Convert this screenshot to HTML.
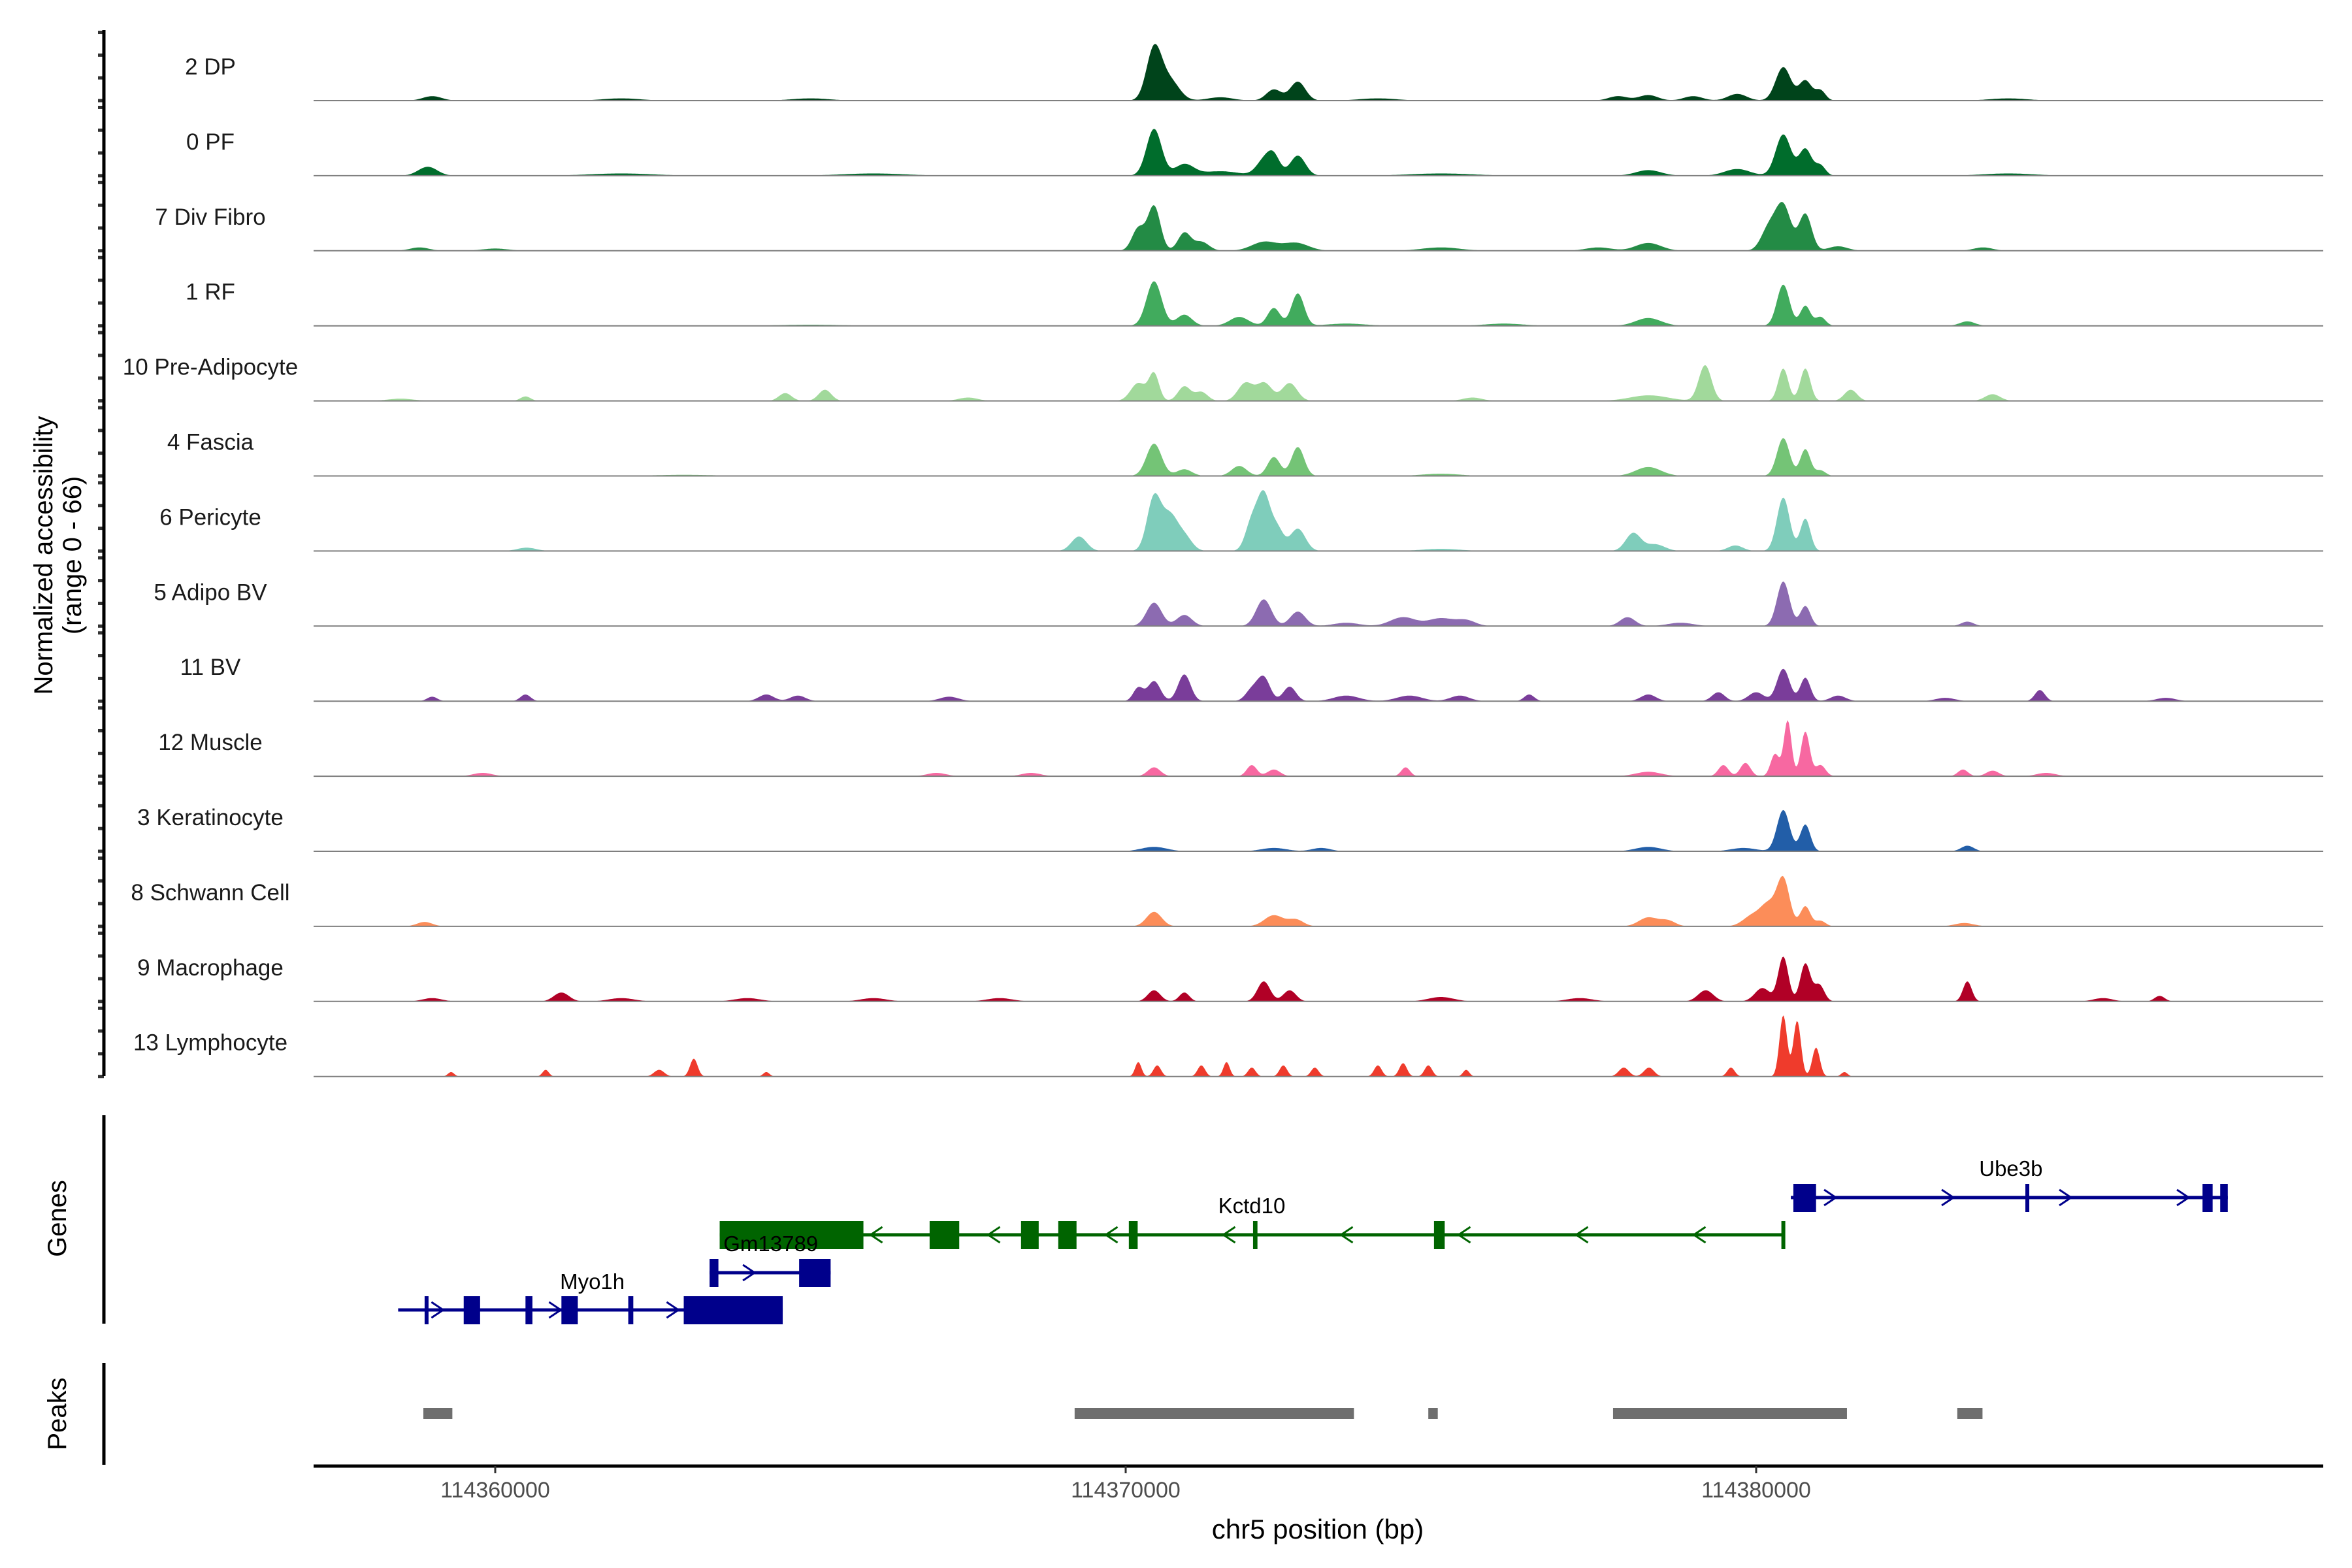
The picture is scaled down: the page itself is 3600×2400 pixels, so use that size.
<!DOCTYPE html>
<html><head><meta charset="utf-8"><style>
html,body{margin:0;padding:0;background:#fff}
svg{display:block;font-family:"Liberation Sans",sans-serif}
</style></head><body>
<svg id="c" width="3600" height="2400" viewBox="0 0 3600 2400" xmlns="http://www.w3.org/2000/svg">
<g id="tracks"></g>
<g id="genes"></g>
<g id="peaks"></g>
<g id="axes"></g>
</svg>
<script>
// ---- data ----
const trackNames = ["2 DP","0 PF","7 Div Fibro","1 RF","10 Pre-Adipocyte","4 Fascia","6 Pericyte","5 Adipo BV","11 BV","12 Muscle","3 Keratinocyte","8 Schwann Cell","9 Macrophage","13 Lymphocyte"];
const trackColors = ["#00441b","#006d2c","#238b45","#41ab5d","#a1d99b","#74c476","#7fcdbb","#8c6bb1","#7a3d9a","#f768a1","#225ea8","#fc8d59","#b10026","#ef3b2c"];
// peaks per track: [kb offset from 114360000, value (0-66), width kb]
const trackPeaks = [
 [[10.45,46,0.12],[10.7,18,0.15],[12.35,10,0.12],[12.73,17,0.12],[20.43,30,0.12],[20.78,18,0.1],[21.02,9,0.08],[18.29,5,0.15],[17.81,4,0.15],[-1.0,4,0.15],[19.0,4,0.15],[19.7,6,0.15],[11.5,3,0.2],[14,2,0.3],[2,2,0.3],[5,2,0.3],[24,2,0.3]],
 [[10.45,42,0.12],[10.93,10,0.15],[12.19,13,0.12],[12.35,16,0.1],[12.73,18,0.12],[20.43,37,0.12],[20.78,24,0.1],[21.02,9,0.08],[-1.07,8,0.15],[18.29,5,0.2],[19.7,6,0.2],[11.5,4,0.3],[2,2,0.5],[6,2,0.5],[15,2,0.5],[24,2,0.4]],
 [[10.45,40,0.1],[10.2,20,0.1],[10.93,16,0.1],[11.2,8,0.12],[12.2,8,0.2],[12.7,7,0.2],[20.2,20,0.12],[20.43,40,0.12],[20.78,33,0.1],[18.29,7,0.2],[23.6,3,0.15],[-1.2,3,0.15],[0,2,0.2],[15,3,0.3],[17.5,3,0.2],[21.3,4,0.15]],
 [[10.45,40,0.12],[10.93,10,0.12],[11.8,8,0.15],[12.35,16,0.1],[12.73,29,0.1],[20.43,37,0.1],[20.78,18,0.08],[21.02,8,0.08],[18.29,7,0.2],[23.35,4,0.12],[13.5,2,0.3],[16,2,0.3],[5,1,0.5]],
 [[10.2,16,0.12],[10.45,24,0.08],[10.93,13,0.1],[11.2,8,0.1],[11.9,16,0.12],[12.2,16,0.12],[12.6,16,0.12],[19.19,32,0.1],[20.43,29,0.08],[20.78,29,0.08],[21.5,10,0.1],[5.23,10,0.1],[4.6,7,0.1],[0.48,4,0.08],[23.75,6,0.12],[18.3,5,0.3],[-1.5,2,0.2],[7.5,3,0.15],[15.5,3,0.15]],
 [[10.45,29,0.12],[10.93,6,0.12],[11.8,9,0.12],[12.35,17,0.1],[12.73,26,0.1],[20.43,34,0.1],[20.78,24,0.08],[21.02,5,0.08],[18.29,8,0.2],[15,2,0.3],[3,1,0.5]],
 [[9.26,13,0.12],[10.45,48,0.11],[10.7,30,0.12],[10.93,13,0.12],[12.0,26,0.1],[12.19,48,0.1],[12.4,20,0.1],[12.73,20,0.12],[18.05,16,0.12],[19.67,5,0.12],[20.43,48,0.1],[20.78,29,0.08],[18.4,6,0.15],[0.5,3,0.15],[15,2,0.3]],
 [[10.45,21,0.12],[10.93,10,0.12],[12.19,24,0.12],[12.73,13,0.12],[14.4,8,0.2],[15.0,7,0.2],[15.4,5,0.15],[17.96,8,0.12],[20.43,40,0.1],[20.78,18,0.08],[23.35,4,0.1],[13.5,3,0.2],[18.8,3,0.2]],
 [[10.45,18,0.1],[10.93,24,0.1],[10.2,12,0.08],[12.19,21,0.1],[12.6,13,0.1],[12.0,10,0.1],[13.5,5,0.2],[14.5,5,0.2],[15.3,5,0.15],[20.0,8,0.12],[19.4,8,0.1],[18.29,6,0.12],[16.4,6,0.08],[4.3,6,0.12],[4.8,5,0.12],[0.48,6,0.08],[24.5,10,0.08],[-1.0,4,0.08],[20.43,29,0.1],[20.78,21,0.08],[21.3,5,0.12],[7.2,4,0.15],[23.0,3,0.15],[26.5,3,0.15]],
 [[10.45,8,0.1],[12.0,10,0.08],[12.35,6,0.1],[14.44,8,0.07],[19.48,10,0.08],[19.83,12,0.08],[20.5,50,0.06],[20.3,20,0.07],[20.78,40,0.07],[21.02,10,0.08],[18.29,4,0.2],[23.28,6,0.08],[23.75,5,0.1],[-0.2,3,0.15],[7,3,0.15],[8.5,3,0.15],[24.6,3,0.15]],
 [[20.43,37,0.1],[20.78,24,0.08],[23.35,5,0.1],[18.29,4,0.2],[10.45,4,0.2],[12.35,3,0.2],[13.1,3,0.15],[19.8,3,0.2]],
 [[10.45,13,0.12],[12.35,10,0.15],[18.29,8,0.15],[18.6,5,0.12],[20.43,42,0.1],[20.2,18,0.12],[19.95,10,0.15],[20.78,18,0.08],[21.02,5,0.08],[-1.12,4,0.12],[12.7,6,0.12],[23.3,3,0.15]],
 [[1.05,8,0.12],[10.45,10,0.1],[10.93,8,0.08],[12.19,18,0.1],[12.6,10,0.1],[20.43,40,0.08],[20.78,34,0.08],[21.0,15,0.08],[20.1,12,0.12],[19.2,10,0.12],[23.35,18,0.07],[26.4,5,0.08],[-1.0,3,0.15],[2,3,0.2],[4,3,0.2],[6,3,0.2],[8,3,0.2],[15,4,0.2],[17.2,3,0.2],[25.5,3,0.15]],
 [[10.2,13,0.05],[10.5,10,0.06],[11.2,10,0.06],[11.6,13,0.05],[12.0,8,0.06],[12.5,10,0.06],[13.0,8,0.06],[3.15,16,0.06],[2.6,6,0.08],[0.8,6,0.05],[-0.7,4,0.05],[20.43,55,0.06],[20.65,50,0.06],[20.95,26,0.06],[19.6,8,0.06],[14.0,10,0.06],[14.4,12,0.06],[14.8,10,0.06],[15.4,6,0.05],[17.9,8,0.08],[18.3,8,0.08],[21.4,4,0.05],[4.3,4,0.05]]
];
const tickValues = [0,20,40,60];
const axisBreaks = [114360000,114370000,114380000];
const geneNames = ["Kctd10","Ube3b","Gm13789","Myo1h"];
const geneStrands = [-1,1,1,1];
const geneSpans = [[3.56,20.43],[20.55,27.48],[3.40,5.32],[-1.54,4.56]];
const geneExons = [
 [[3.56,5.84],[6.89,7.36],[8.34,8.62],[8.93,9.22],[10.05,10.19],[12.02,12.09],[14.89,15.06],[20.40,20.46]],
 [[20.59,20.95],[24.27,24.33],[27.08,27.24],[27.36,27.48]],
 [[3.40,3.54],[4.82,5.32]],
 [[-1.12,-1.06],[-0.50,-0.24],[0.48,0.59],[1.05,1.31],[2.11,2.19],[2.99,4.56]]
];
const geneRows = [1890,1833,1948,2005];
const geneColors = ["#006400","#00008b","#00008b","#00008b"];
const peakRegions = [[-1.14,-0.68],[9.19,13.62],[14.80,14.95],[17.73,21.44],[23.19,23.59]];

// ---- layout ----
const NS="http://www.w3.org/2000/svg";
const X0=480,X1=3556;
function xs(kb){return 758+kb*96.5;}
function xbp(bp){return xs((bp-114360000)/1000);}
const base0=154, dy=114.9, vmax=66;
function mk(tag,attrs,parent){const e=document.createElementNS(NS,tag);for(const k in attrs)e.setAttribute(k,attrs[k]);parent.appendChild(e);return e;}
const T=document.getElementById('tracks'),G=document.getElementById('genes'),P=document.getElementById('peaks'),A=document.getElementById('axes');

trackNames.forEach((nm,i)=>{
  const b=base0+i*dy;
  const g=mk('g',{},T);
  
  
  let d='M'+X0+','+b;
  for(let x=X0;x<=X1;x+=2){
    const kb=(x-758)/96.5;let v=0;
    for(const p of trackPeaks[i]){const z=(kb-p[0])/p[2];if(Math.abs(z)<4)v+=p[1]*Math.exp(-0.5*z*z);}
    v=Math.min(v,vmax);
    d+=' L'+x+','+(b-v/vmax*dy*0.98).toFixed(1);
  }
  d+=' L'+X1+','+b+' Z';
  const path=mk('path',{d:d,fill:trackColors[i],stroke:'none'},g);
  
  
  const ln=mk('line',{x1:X0,x2:X1,y1:b,y2:b,stroke:'#7f7f7f','stroke-width':2},g);
  
  
  const t=mk('text',{x:322,y:b-40,'font-size':35,'text-anchor':'middle',fill:'#1a1a1a'},g);
  t.textContent=nm;
  
  
  tickValues.forEach(v=>{
    const ty=b-v/vmax*dy;
    const tk=mk('line',{x1:150,x2:159,y1:ty,y2:ty,stroke:'#333','stroke-width':5},g);
    
    
  });
});
let yl=mk('line',{x1:159,x2:159,y1:46,y2:1647,stroke:'#000','stroke-width':5},A);

let yt=mk('text',{transform:'translate(80,850) rotate(-90)','font-size':40,'text-anchor':'middle',fill:'#000'},A);
yt.innerHTML='<tspan x="0" dy="0">Normalized accessibility</tspan><tspan x="0" dy="44">(range 0 - 66)</tspan>';


// genes
geneNames.forEach((nm,i)=>{
  const g=mk('g',{},G);
  
  
  const y=geneRows[i],c=geneColors[i];
  const xa=xs(geneSpans[i][0]),xb=xs(geneSpans[i][1]);
  mk('line',{x1:xa,x2:xb,y1:y,y2:y,stroke:c,'stroke-width':5},g);
  for(let x=xa+60;x<xb-20;x+=180){
    const s=geneStrands[i]*9;
    const ch=mk('path',{d:`M${x-s},${y-12} L${x+s},${y} L${x-s},${y+12}`,fill:'none',stroke:c,'stroke-width':3},g);
    
  }
  geneExons[i].forEach(e=>{
    const r=mk('rect',{x:xs(e[0]),y:y-21,width:Math.max(6,xs(e[1])-xs(e[0])),height:43,fill:c},g);
    
  });
});
const labelPos=[[12.0,1857],[24.04,1800],[4.37,1915],[1.54,1973]];
geneNames.forEach((nm,i)=>{
  const t=mk('text',{x:xs(labelPos[i][0]),y:labelPos[i][1],'font-size':33,'text-anchor':'middle',fill:'#000'},G);
  t.textContent=nm;
});
let gl=mk('line',{x1:159,x2:159,y1:1707,y2:2026,stroke:'#000','stroke-width':5},G);

let gt=mk('text',{transform:'translate(101,1865) rotate(-90)','font-size':40,'text-anchor':'middle',fill:'#000'},G);
gt.textContent='Genes';

// peaks
peakRegions.forEach(p=>{
  const r=mk('rect',{x:xs(p[0]),y:2155,width:xs(p[1])-xs(p[0]),height:17,fill:'#6e6e6e'},P);
  
});
let pl=mk('line',{x1:159,x2:159,y1:2086,y2:2242,stroke:'#000','stroke-width':5},P);

let pt=mk('text',{transform:'translate(101,2164) rotate(-90)','font-size':40,'text-anchor':'middle',fill:'#000'},P);
pt.textContent='Peaks';

// x axis
let xl=mk('line',{x1:X0,x2:X1,y1:2244,y2:2244,stroke:'#000','stroke-width':5},A);

axisBreaks.forEach(bp=>{
  const x=xbp(bp);
  const tk=mk('line',{x1:x,x2:x,y1:2244,y2:2255,stroke:'#333','stroke-width':3},A);
  
  const t=mk('text',{x:x,y:2292,'font-size':34,'text-anchor':'middle',fill:'#4d4d4d'},A);
  t.textContent=String(bp);
});
let xt=mk('text',{x:2017,y:2355,'font-size':42,'text-anchor':'middle',fill:'#000'},A);
xt.textContent='chr5 position (bp)';
</script>
</body></html>
